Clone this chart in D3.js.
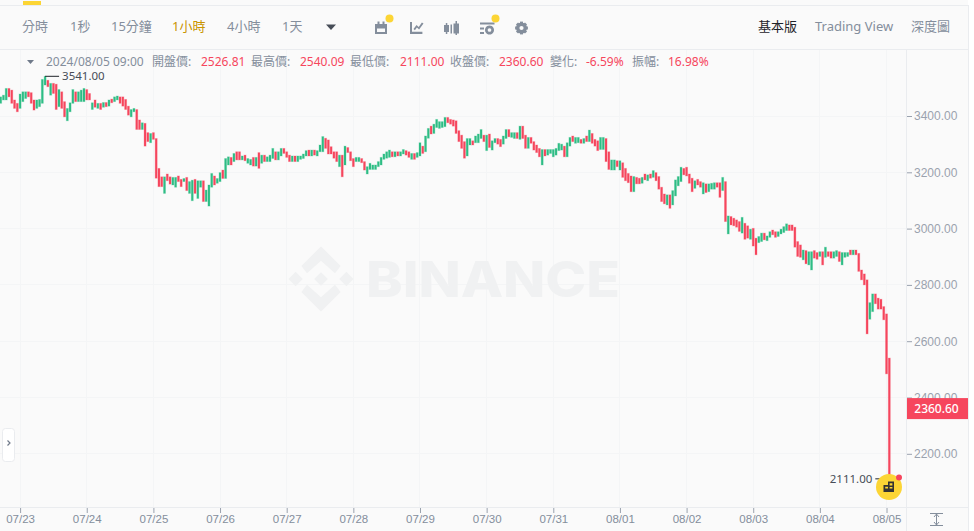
<!DOCTYPE html>
<html lang="zh-Hant">
<head>
<meta charset="utf-8">
<script src="https://cdn.jsdelivr.net/npm/d3@7/dist/d3.min.js"></script>
<style>
html,body{margin:0;padding:0;background:#fff;overflow:hidden}
svg{display:block;font-family:"Noto Sans","Noto Sans CJK TC",sans-serif}
</style>
</head>
<body>
<svg id="c" width="974" height="531"></svg>
<script>
const highs=[
3468,3474,3498,3498,3492,3457,3445,3478,3486,3486,
3486,3483,3457,3457,3459,3530,3541,3527,3516,3516,
3513,3494,3486,3451,3427,3447,3494,3486,3486,3492,
3498,3494,3480,3447,3457,3445,3445,3448,3448,3457,
3460,3468,3471,3468,3468,3459,3435,3423,3427,3423,
3386,3376,3374,3341,3338,3341,3320,3214,3184,3184,
3194,3184,3182,3182,3187,3175,3178,3182,3167,3172,
3175,3170,3170,3170,3137,3155,3196,3187,3178,3199,
3208,3249,3255,3253,3267,3273,3273,3258,3261,3249,
3246,3253,3253,3270,3261,3261,3255,3261,3285,3273,
3273,3285,3285,3273,3261,3258,3258,3258,3258,3265,
3277,3279,3279,3279,3277,3297,3327,3321,3315,3291,
3273,3273,3261,3261,3293,3288,3273,3249,3253,3253,
3249,3238,3220,3232,3226,3226,3238,3253,3265,3273,
3279,3273,3273,3273,3273,3281,3277,3273,3267,3267,
3270,3305,3293,3329,3356,3364,3371,3388,3380,3380,
3395,3395,3388,3386,3383,3348,3332,3309,3320,3320,
3312,3329,3336,3352,3332,3332,3336,3312,3320,3320,
3317,3329,3352,3352,3341,3341,3341,3364,3364,3332,
3324,3324,3309,3297,3285,3281,3281,3281,3281,3281,
3285,3303,3300,3293,3305,3324,3329,3324,3324,3317,
3320,3329,3350,3338,3317,3312,3324,3324,3320,3273,
3244,3244,3241,3241,3234,3214,3196,3187,3185,3182,
3179,3182,3194,3191,3194,3206,3199,3185,3147,3123,
3120,3120,3135,3173,3185,3218,3214,3218,3194,3179,
3170,3175,3167,3163,3159,3159,3161,3163,3163,3163,
3182,3167,3045,3043,3037,3031,3025,3040,3019,3010,
2998,3001,2966,2972,2984,2984,2974,2989,2995,2989,
2989,2998,3007,3017,3013,3013,3005,2954,2942,2924,
2922,2918,2918,2922,2915,2918,2918,2934,2918,2918,
2918,2922,2918,2915,2915,2915,2924,2924,2924,2912,
2853,2839,2818,2737,2768,2768,2753,2749,2723,2697,2540.09];
const lows=[
3445,3457,3457,3468,3445,3427,3415,3427,3451,3462,
3468,3445,3421,3427,3433,3445,3510,3504,3474,3480,
3423,3433,3427,3397,3383,3415,3445,3451,3451,3451,
3451,3457,3457,3423,3431,3427,3423,3431,3433,3435,
3447,3451,3457,3445,3435,3423,3403,3397,3415,3352,
3352,3352,3293,3309,3305,3317,3179,3149,3149,3125,
3170,3158,3155,3147,3167,3149,3167,3135,3125,3099,
3125,3107,3147,3096,3096,3080,3147,3155,3161,3167,
3178,3178,3226,3226,3238,3244,3244,3244,3241,3232,
3226,3222,3222,3214,3232,3238,3238,3238,3249,3244,
3244,3258,3267,3253,3238,3238,3238,3238,3246,3249,
3258,3258,3258,3261,3258,3273,3273,3285,3265,3265,
3250,3238,3220,3184,3226,3270,3241,3220,3238,3238,
3234,3208,3194,3210,3210,3210,3220,3226,3246,3250,
3253,3255,3255,3258,3258,3265,3261,3253,3246,3246,
3253,3258,3267,3273,3321,3336,3338,3359,3356,3359,
3362,3376,3371,3364,3338,3309,3285,3250,3258,3297,
3297,3305,3305,3320,3309,3277,3288,3279,3305,3300,
3291,3300,3320,3326,3324,3320,3320,3317,3320,3285,
3285,3303,3279,3270,3255,3226,3258,3261,3267,3255,
3261,3277,3279,3255,3255,3293,3309,3303,3305,3303,
3303,3309,3309,3303,3293,3277,3281,3281,3238,3210,
3208,3208,3220,3208,3182,3170,3163,3131,3131,3159,
3159,3161,3173,3170,3179,3182,3170,3140,3096,3088,
3084,3072,3084,3116,3152,3167,3191,3187,3161,3131,
3143,3155,3147,3123,3128,3131,3140,3140,3147,3111,
3135,3025,2981,3013,3010,3005,2990,2984,2962,2966,
2962,2938,2907,2950,2954,2960,2957,2969,2978,2969,
2972,2981,2986,2993,2993,2993,2934,2901,2898,2889,
2875,2871,2853,2895,2891,2901,2871,2898,2901,2895,
2895,2901,2883,2871,2898,2901,2907,2907,2907,2848,
2818,2800,2626,2678,2705,2733,2714,2714,2676,2484,2111];
// g = close above open, r = close below open, one letter per hourly candle
const directions=(
"gggrrrrggg"+"rrrggggrgr"+"rgrrgggrgg"+"grrgrgrgrg"+"rggrrrrggr"+"rgrrgrrrrg"+
"rrggrrgrgg"+"rggrgggrgg"+"rggrgrrgrg"+"grgrgrgggr"+"ggrrrgrggg"+"grgrgggrrr"+
"rrgrgrrrgg"+"rrgggggggg"+"grgrggrrgr"+"ggrggrgggg"+"grrrrrrrgg"+"rgggrgrggr"+
"rggrggrgrr"+"grrrrgrggg"+"gggrggrggr"+"grgrrrggrr"+"ggrgrrrrgr"+"rgrgrgrrrr"+
"grggggrrrr"+"grrgrgggrr"+"grgrrrrgrr"+"grrggrggrr"+"ggggrrrrrg"+"rggrrgrgrr"+
"ggrgggrgrr"+"rrrggrrrrrr").split("");
const yTicks=[3400,3200,3000,2800,2600,2400,2200];
const dayIndex=[7,31,55,79,103,127,151,175,199,223,247,271,295,319];
const dayLabels=["07/23","07/24","07/25","07/26","07/27","07/28","07/29","07/30","07/31","08/01","08/02","08/03","08/04","08/05"];
const intervals=["分時","1秒","15分鐘","1小時","4小時","1天"];
const intervalX=[22,70,111,172,227,282];
const chartTypes=["基本版","Trading View","深度圖"];
const chartTypeX=[758,815,911];
const infoLabels=["開盤價:","最高價:","最低價:","收盤價:","變化:","振幅:"];
const infoValues=["2526.81","2540.09","2111.00","2360.60","-6.59%","16.98%"];
const infoLabelX=[152,251,350,450,550,632];
const infoValueX=[201,300,400,499,586,668];
const lastPrice=2360.60, maxPrice=3541, minPrice=2111;

const RED="#f6465d",GREEN="#2ebd85",TXT="#848e9c",AXIS="#9aa2ae",GRID="#f4f5f6",LINE="#eaecef";
const svg=d3.select("#c");
svg.append("rect").attr("width",968).attr("height",531).attr("fill","#fafafa");
svg.append("rect").attr("x",968).attr("width",6).attr("height",531).attr("fill","#fff");

const x=d3.scaleLinear().domain([0,highs.length-1]).range([0.66,889.3]);
const y=d3.scaleLinear().domain([3400,2200]).range([116,453.8]);

// grid
const grid=svg.append("g").attr("stroke",GRID).attr("stroke-width",1).attr("shape-rendering","crispEdges");
grid.selectAll(".h").data(yTicks).join("line").attr("x1",0).attr("x2",906).attr("y1",d=>y(d)).attr("y2",d=>y(d));
grid.selectAll(".v").data(dayIndex).join("line").attr("x1",d=>x(d)).attr("x2",d=>x(d)).attr("y1",50).attr("y2",507);

// watermark
const wm=svg.append("g").attr("fill","#f0f1f2");
const logo=wm.append("g").attr("transform","translate(321,279) scale(32.6)");
logo.append("path").attr("d","M0,-1 L.6,-.4 L.43,-.18 L0,-.56 L-.43,-.18 L-.6,-.4 Z");
logo.append("path").attr("d","M0,1 L.6,.4 L.43,.18 L0,.56 L-.43,.18 L-.6,.4 Z");
logo.append("path").attr("d","M-1,0 L-.78,-.22 L-.56,0 L-.78,.22 Z");
logo.append("path").attr("d","M1,0 L.78,-.22 L.56,0 L.78,.22 Z");
logo.append("path").attr("d","M0,-.21 L.21,0 L0,.21 L-.21,0 Z");
wm.append("text").attr("x",366).attr("y",297).attr("font-family","Inter,sans-serif").attr("font-weight",800)
  .attr("font-size",50).attr("textLength",254).attr("lengthAdjust","spacingAndGlyphs").text("BINANCE");

// candles
svg.append("g").selectAll("rect").data(highs).join("rect")
  .attr("x",(d,i)=>x(i)-1).attr("width",2)
  .attr("y",d=>y(d)).attr("height",(d,i)=>y(lows[i])-y(d))
  .attr("fill",(d,i)=>directions[i]==="g"?GREEN:RED)
  .attr("stroke",(d,i)=>directions[i]==="g"?GREEN:RED)
  .attr("stroke-opacity",.28).attr("stroke-width",.9);

// chrome lines
const ch=svg.append("g").attr("stroke",LINE).attr("stroke-width",1).attr("shape-rendering","crispEdges");
ch.append("line").attr("x1",0).attr("x2",968).attr("y1",5.5).attr("y2",5.5);
ch.append("line").attr("x1",0).attr("x2",968).attr("y1",49.5).attr("y2",49.5);
ch.append("line").attr("x1",0).attr("x2",968).attr("y1",507.5).attr("y2",507.5);
ch.append("line").attr("x1",906.5).attr("x2",906.5).attr("y1",50).attr("y2",531);
ch.append("line").attr("x1",968.5).attr("x2",968.5).attr("y1",5).attr("y2",531);
svg.append("rect").attr("x",23).attr("y",1).attr("width",18).attr("height",4).attr("fill","#fcd535");

// axes
const ya=svg.append("g").attr("transform","translate(907,0)")
  .call(d3.axisRight(y).tickValues(yTicks).tickSize(5).tickPadding(2).tickFormat(d3.format(".2f")));
ya.select(".domain").remove();
ya.selectAll("line").attr("stroke",AXIS);
ya.selectAll("text").attr("fill",AXIS).attr("font-size",12).attr("font-family","inherit");
const xa=svg.append("g").attr("transform","translate(0,508)")
  .call(d3.axisBottom(x).tickValues(dayIndex).tickSize(5).tickPadding(2).tickFormat((d,i)=>dayLabels[i]));
xa.select(".domain").remove();
xa.selectAll("line").attr("stroke",AXIS);
xa.selectAll("text").attr("fill",TXT).attr("font-size",11.5).attr("font-family","inherit");

// last price tag
svg.append("rect").attr("x",907).attr("y",y(lastPrice)-10.5).attr("width",61).attr("height",21).attr("fill",RED);
svg.append("text").attr("x",936.5).attr("y",y(lastPrice)+4.3).attr("text-anchor","middle").attr("fill","#fff")
  .attr("font-size",12).attr("font-weight",500).text(lastPrice.toFixed(2));

// toolbar text
const tb=svg.append("g").attr("font-size",13);
tb.selectAll(".i").data(intervals).join("text").attr("x",(d,i)=>intervalX[i]).attr("y",31)
  .attr("fill",d=>d==="1小時"?"#c99400":TXT).text(d=>d);
tb.selectAll(".t").data(chartTypes).join("text").attr("x",(d,i)=>chartTypeX[i]).attr("y",31)
  .attr("fill",d=>d==="基本版"?"#1e2329":TXT).text(d=>d);
svg.append("path").attr("d","M326,24.5 h10 l-5,5.5 z").attr("fill","#474d57");

// toolbar icons
const ic=svg.append("g").attr("fill","#848e9c");
ic.append("path").attr("d","M375,24 h12 v10 h-12 z M377,28.5 v3.5 h8 v-3.5 z M377.5,21.5 h2 v2.5 h-2 z M382.5,21.5 h2 v2.5 h-2 z").attr("fill-rule","evenodd");
ic.append("path").attr("d","M410,22 h2 v9.8 h10.4 v2.2 h-12.4 z M413.5,29 l3,-4 2.2,2 3.2,-4.6 1.6,1.2 -4.4,6 -2.2,-2 -2,2.6 z");
ic.append("path").attr("d","M444,25 h5 v7 h-5 z M445.8,23 h1.5 v11 h-1.5 z M450.5,24.5 h1.5 v9 h-1.5 z M453.5,23.5 h5.5 v10 h-5.5 z M455.5,21 h1.5 v14 h-1.5 z");
ic.append("path").attr("d","M480,22.5 h14.5 v2 h-14.5 z M480,27.5 h4 v2 h-4 z M480,32 h4 v2 h-4 z M489.5,25.5 a4.5,4.5 0 1,0 0.01,0 z M489.5,28.2 a1.8,1.8 0 1,1 -0.01,0 z").attr("fill-rule","evenodd");
ic.append("circle").attr("cx",521.5).attr("cy",28).attr("r",3.8).attr("fill","none").attr("stroke","#848e9c").attr("stroke-width",3.4);
ic.selectAll(".g").data(d3.range(8)).join("rect").attr("x",520).attr("y",21.6).attr("width",3).attr("height",2.6)
  .attr("transform",d=>`rotate(${d*45} 521.5 28)`);
svg.append("circle").attr("cx",389.5).attr("cy",18.5).attr("r",4).attr("fill","#fcd535");
svg.append("circle").attr("cx",495.5).attr("cy",18.5).attr("r",4).attr("fill","#fcd535");

// info row
svg.append("path").attr("d","M27,60 h7 l-3.5,4 z").attr("fill","#707a8a");
const info=svg.append("g").attr("font-size",12);
info.append("text").attr("x",46).attr("y",66).attr("fill",TXT).text("2024/08/05 09:00");
info.selectAll(".l").data(infoLabels).join("text").attr("x",(d,i)=>infoLabelX[i]).attr("y",66).attr("fill",TXT).text(d=>d);
info.selectAll(".v").data(infoValues).join("text").attr("x",(d,i)=>infoValueX[i]).attr("y",66).attr("fill",RED).text(d=>d);

// extreme labels
const iMax=highs.indexOf(maxPrice), iMin=lows.indexOf(minPrice);
svg.append("line").attr("x1",x(iMax)).attr("x2",x(iMax)+14).attr("y1",y(maxPrice)).attr("y2",y(maxPrice)).attr("stroke","#1e2329");
svg.append("text").attr("x",x(iMax)+17).attr("y",y(maxPrice)+4).attr("font-size",11.5).attr("fill","#474d57").text(maxPrice.toFixed(2));
svg.append("line").attr("x1",x(iMin)-14).attr("x2",x(iMin)-8).attr("y1",y(minPrice)).attr("y2",y(minPrice)).attr("stroke","#1e2329");
svg.append("text").attr("x",x(iMin)-17).attr("y",y(minPrice)+4).attr("text-anchor","end").attr("font-size",11.5).attr("fill","#474d57").text(minPrice.toFixed(2));

// yellow badge
svg.append("circle").attr("cx",889).attr("cy",487).attr("r",13).attr("fill","#fcd535");
svg.append("path").attr("d","M888,481.5 h6 v10.5 h-10.5 v-7 h4.5 z M889.6,483.3 v2.2 h2.8 v-2.2 z M889.6,487 v1.4 h2.8 v-1.4 z M885.2,486.8 v1.6 h2.8 v-1.6 z").attr("fill-rule","evenodd").attr("fill","#333");
svg.append("circle").attr("cx",899).attr("cy",477.5).attr("r",3).attr("fill",RED);

// side button
svg.append("rect").attr("x",2.5).attr("y",428.5).attr("width",12).attr("height",33).attr("rx",3).attr("fill","#fff").attr("stroke",LINE);
svg.append("path").attr("d","M7.5,440.5 l2.5,2.5 -2.5,2.5").attr("fill","none").attr("stroke","#707a8a").attr("stroke-width",1.2);

// bottom-right scale icon
svg.append("path").attr("d","M930,513.5 h13 M930,525.5 h13 M936.5,514 v11 M934,517 l2.5,-3 2.5,3 M934,522 l2.5,3 2.5,-3")
  .attr("fill","none").attr("stroke","#848e9c").attr("stroke-width",1);
</script>
</body>
</html>
